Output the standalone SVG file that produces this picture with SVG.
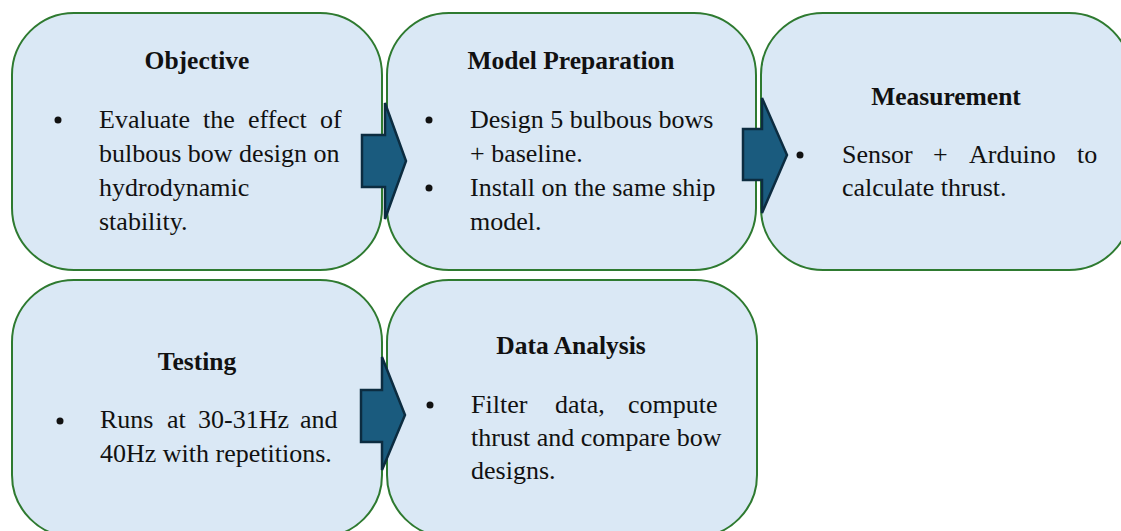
<svg xmlns="http://www.w3.org/2000/svg" width="1121" height="531" viewBox="0 0 1121 531">
<style>
.box{fill:#dae8f5;stroke:#2e7a30;stroke-width:2}
.arr{fill:#1a5b7e;stroke:#0c2c40;stroke-width:2.5;stroke-linejoin:miter}
.t{font-family:"Liberation Serif","Times New Roman",serif;font-size:25.5px;font-weight:bold;fill:#111;text-anchor:middle}
.b{font-family:"Liberation Serif","Times New Roman",serif;font-size:26px;fill:#111}
.dot{fill:#111}
</style>
<rect width="1121" height="531" fill="#ffffff"/>
<g id="objective">
<rect class="box" x="12" y="13" width="370" height="257" rx="62" ry="62"/>
<text class="t" x="197" y="69">Objective</text>
<circle class="dot" cx="58" cy="120" r="3.5"/>
<text class="b" y="128"><tspan x="99">Evaluate</tspan><tspan x="203">the</tspan><tspan x="248">effect</tspan><tspan x="320">of</tspan></text>
<text class="b" x="99" y="162">bulbous bow design on</text>
<text class="b" x="99" y="196">hydrodynamic</text>
<text class="b" x="99" y="230">stability.</text>
</g>
<g id="model-preparation">
<rect class="box" x="387" y="13" width="369" height="257" rx="62" ry="62"/>
<text class="t" x="571" y="69">Model Preparation</text>
<circle class="dot" cx="429" cy="120" r="3.5"/>
<text class="b" x="470" y="128">Design 5 bulbous bows</text>
<text class="b" x="470" y="162">+ baseline.</text>
<circle class="dot" cx="429" cy="188" r="3.5"/>
<text class="b" x="470" y="196">Install on the same ship</text>
<text class="b" x="470" y="230">model.</text>
</g>
<g id="measurement">
<rect class="box" x="761" y="13" width="370" height="257" rx="62" ry="62"/>
<text class="t" x="946" y="105">Measurement</text>
<circle class="dot" cx="800" cy="155" r="3.5"/>
<text class="b" y="163"><tspan x="842">Sensor</tspan><tspan x="933">+</tspan><tspan x="969">Arduino</tspan><tspan x="1077">to</tspan></text>
<text class="b" x="842" y="196">calculate thrust.</text>
</g>
<g id="testing">
<rect class="box" x="12" y="280" width="370" height="257" rx="62" ry="62"/>
<text class="t" x="197" y="370">Testing</text>
<circle class="dot" cx="60" cy="421" r="3.5"/>
<text class="b" y="428"><tspan x="100">Runs</tspan><tspan x="167">at</tspan><tspan x="198">30-31Hz</tspan><tspan x="300">and</tspan></text>
<text class="b" x="100" y="462">40Hz with repetitions.</text>
</g>
<g id="data-analysis">
<rect class="box" x="387" y="280" width="370" height="257" rx="62" ry="62"/>
<text class="t" x="571" y="354">Data Analysis</text>
<circle class="dot" cx="430" cy="405" r="3.5"/>
<text class="b" y="413"><tspan x="471">Filter</tspan><tspan x="555">data,</tspan><tspan x="628">compute</tspan></text>
<text class="b" x="471" y="446">thrust and compare bow</text>
<text class="b" x="471" y="479">designs.</text>
</g>
<g id="connectors">
<polygon class="arr" points="362,135 385,135 385,103 406,161 385,219 385,187 362,187"/>
<polygon class="arr" points="743,129 762,129 762,98 787,155 762,213 762,180 743,180"/>
<polygon class="arr" points="361,390 382,390 382,357 405,415 382,470 382,442 361,442"/>
</g>
</svg>
